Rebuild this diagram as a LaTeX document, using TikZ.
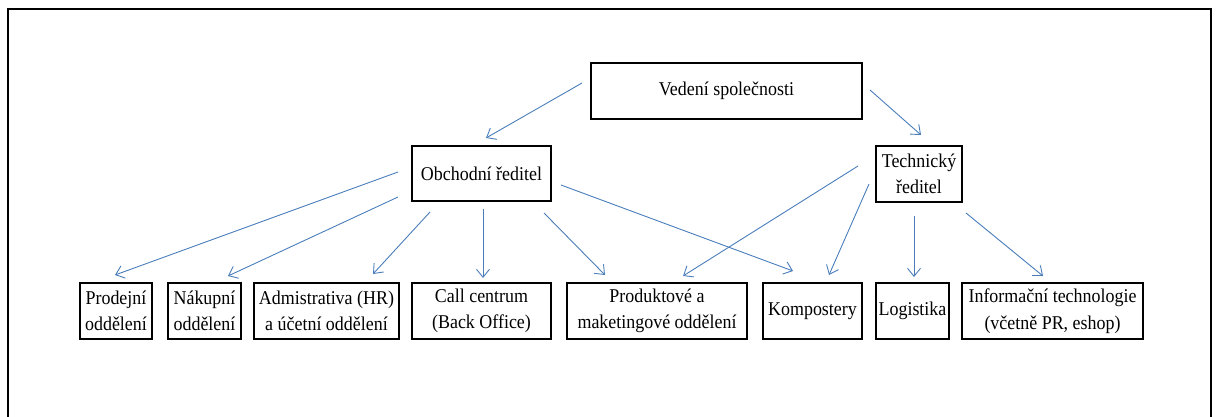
\documentclass[tikz,border=0pt]{standalone}
\usepackage{fontspec}
\setmainfont{Liberation Serif}[FakeStretch=0.92]
\usetikzlibrary{arrows.meta}
\definecolor{arrowblue}{RGB}{74,126,187}
\begin{document}
\begin{tikzpicture}[x=1pt,y=-1pt,
  box/.style={draw=black, line width=1.6pt, inner sep=0pt, align=center,
    minimum height=56, font=\fontsize{19.5}{26.5}\selectfont},
  conn/.style={draw=arrowblue, line width=0.9pt,
    -{Straight Barb[length=8pt,width=13pt]}}]
\useasboundingbox (0,0) rectangle (1217,417);
\clip (0,0) rectangle (1217,417);
\draw[line width=1.6pt] (8,9) rectangle (1211,440);
% nodes
\node[box, minimum width=271] (ved) at (726.5,91) {Vedení společnosti};
\node[box, minimum width=139, minimum height=55] (obch) at (481.5,173.5) {Obchodní ředitel};
\node[box, minimum width=86] (tech) at (919,174) {Technický\\ředitel};
\node[box, minimum width=72] (prod) at (116,311) {Prodejní\\oddělení};
\node[box, minimum width=73] (nak) at (204.5,311) {Nákupní\\oddělení};
\node[box, minimum width=145] (adm) at (326.5,311) {Admistrativa (HR)\\a účetní oddělení};
\node[box, minimum width=139] (call) at (481.5,311) {Call centrum\\(Back Office)};
\node[box, minimum width=180] (prk) at (657,311) {Produktové a\\maketingové oddělení};
\node[box, minimum width=99] (komp) at (812.5,311) {Kompostery};
\node[box, minimum width=73] (log) at (912.5,311) {Logistika};
\node[box, minimum width=181] (it) at (1052.5,311) {Informační technologie\\(včetně PR, eshop)};
% connector end points
\coordinate (vedL) at (582,83);   \coordinate (obchT) at (486,138);
\coordinate (vedR) at (870,90);   \coordinate (techT) at (921,135);
\coordinate (obA) at (398,172);   \coordinate (prodT) at (115,275);
\coordinate (obB) at (398,197);   \coordinate (nakT) at (228,276);
\coordinate (obC) at (430,212);   \coordinate (admT) at (373,274);
\coordinate (obD) at (483,209);   \coordinate (callT) at (483,278);
\coordinate (obE) at (544,213);   \coordinate (prkT) at (605,275);
\coordinate (obF) at (561,185);   \coordinate (kompT) at (793,271);
\coordinate (teA) at (858,166);   \coordinate (prkT2) at (683,276);
\coordinate (teB) at (869,184);   \coordinate (kompT2) at (829,275);
\coordinate (teC) at (914,216);   \coordinate (logT) at (914,277);
\coordinate (teD) at (966,213);   \coordinate (itT) at (1043,276);
% connectors
\draw[conn] (vedL) -- (obchT);
\draw[conn] (vedR) -- (techT);
\draw[conn] (obA) -- (prodT);
\draw[conn] (obB) -- (nakT);
\draw[conn] (obC) -- (admT);
\draw[conn] (obD) -- (callT);
\draw[conn] (obE) -- (prkT);
\draw[conn] (obF) -- (kompT);
\draw[conn] (teA) -- (prkT2);
\draw[conn] (teB) -- (kompT2);
\draw[conn] (teC) -- (logT);
\draw[conn] (teD) -- (itT);
\end{tikzpicture}
\end{document}
